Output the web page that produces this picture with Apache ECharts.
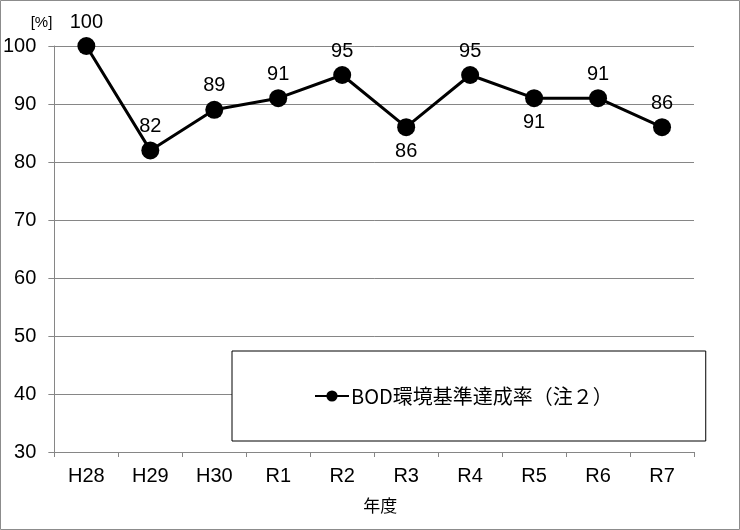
<!DOCTYPE html>
<html>
<head>
<meta charset="utf-8">
<script src="https://cdn.jsdelivr.net/npm/echarts@6/dist/echarts.min.js"></script>
<style>
  html, body { margin: 0; padding: 0; background: #fff; }
  #main { width: 740px; height: 530px; }
</style>
</head>
<body>
<div id="main"></div>
<script>
var chartDom = document.getElementById('main');
var myChart = echarts.init(chartDom);

// 年度
const years = ['H28', 'H29', 'H30', 'R1', 'R2', 'R3', 'R4', 'R5', 'R6', 'R7'];
// BOD環境基準達成率 [%]
const bodRate = [100, 82, 89, 91, 95, 86, 95, 91, 91, 86];
// ラベルを点の下に出す年度
const labelBelow = ['R3', 'R5'];
const yTicks = { min: 30, max: 100, interval: 10 };

const numFont = '"Liberation Sans", Arial, sans-serif';
const jpFont = '"Noto Sans CJK JP", sans-serif';

const points = bodRate.map(function (v, i) {
    return {
        value: v,
        label: { position: labelBelow.indexOf(years[i]) >= 0 ? 'bottom' : 'top' }
    };
});

let option = {
    animation: false,
    backgroundColor: '#fff',
    graphic: [{
        type: 'rect',
        shape: { x: 0.5, y: 0.5, width: 739, height: 529 },
        style: { fill: 'none', stroke: '#8c8c8c', lineWidth: 1 },
        silent: true
    }],
    grid: { left: 54, right: 46, top: 46, bottom: 78 },
    legend: {
        left: 232,
        top: 351,
        padding: [35, 93, 35, 82],
        backgroundColor: '#fff',
        borderColor: '#000',
        borderWidth: 1,
        borderRadius: 0,
        itemWidth: 34,
        itemHeight: 14,
        itemGap: 0,
        textStyle: { color: '#000', fontSize: 20, fontFamily: jpFont, padding: [0, 0, 0, -3] },
        data: ['BOD環境基準達成率（注２）']
    },
    xAxis: {
        type: 'category',
        data: years,
        name: '年度',
        nameLocation: 'middle',
        nameGap: 45,
        nameTextStyle: { color: '#000', fontSize: 17, fontFamily: jpFont, padding: [0, 0, 0, 12] },
        axisLine: { lineStyle: { color: '#868686' } },
        axisTick: { show: true, length: 5, lineStyle: { color: '#868686' } },
        axisLabel: { color: '#000', fontSize: 20, fontFamily: numFont, margin: 14 }
    },
    yAxis: {
        type: 'value',
        min: yTicks.min,
        max: yTicks.max,
        interval: yTicks.interval,
        name: '[%]',
        nameGap: 16,
        nameTextStyle: { color: '#000', fontSize: 15, fontFamily: numFont, align: 'right', padding: [0, 2, 0, 0] },
        axisLine: { show: true, lineStyle: { color: '#868686' } },
        axisTick: { show: true, length: 6, lineStyle: { color: '#868686' } },
        axisLabel: { color: '#000', fontSize: 20, fontFamily: numFont, margin: 18 },
        splitLine: { lineStyle: { color: '#868686', width: 1 } }
    },
    series: [
        {
            name: 'BOD環境基準達成率（注２）',
            type: 'line',
            data: points,
            symbol: 'circle',
            symbolSize: 18,
            lineStyle: { color: '#000', width: 3 },
            itemStyle: { color: '#000' },
            label: {
                show: true,
                distance: 5,
                color: '#000',
                fontSize: 20,
                fontFamily: numFont
            }
        }
    ]
};

option && myChart.setOption(option);
</script>
</body>
</html>
